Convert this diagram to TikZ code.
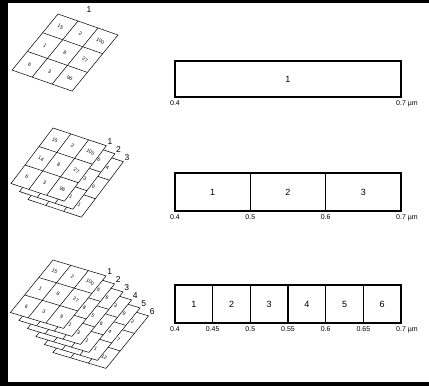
\documentclass[tikz,border=0pt]{standalone}
\usepackage{fontspec}
\setmainfont{Liberation Sans}
\begin{document}
\begin{tikzpicture}[x=1pt,y=-1pt,every node/.style={inner sep=1pt},
  bar/.style={line width=1.2pt},
  cell/.style={line width=0.5pt},
  num/.style={font=\fontsize{5}{5}\selectfont,rotate=-30},
  lay/.style={font=\fontsize{8.5}{9}\selectfont},
  binlbl/.style={font=\fontsize{9}{10}\selectfont},
  tick/.style={font=\fontsize{7}{7}\selectfont,anchor=north}]
\useasboundingbox (0,0) rectangle (429,386);
\fill[black] (0,0) rectangle (429,386);
\fill[white] (8,3) rectangle (429,382);
% one image
\begin{scope}[x={(20pt,-7pt)},y={(-15.3pt,-18.7pt)},xshift=58pt,yshift=-14pt]
\filldraw[cell,fill=white] (0,0) -- (3,0) -- (3,3) -- (0,3) -- cycle;
\foreach \t in {1,2} {
  \draw[cell] (\t,0) -- (\t,3);
  \draw[cell] (0,\t) -- (3,\t);
}
\foreach \n [count=\c from 0] in {15,2,100,1,8,27,6,3,96} {
  \pgfmathtruncatemacro\col{mod(\c,3)}
  \pgfmathtruncatemacro\row{\c/3}
  \node[num] (g1-\c) at (\col+0.5,\row+0.5) {\n};
}
\end{scope}
\node[lay] (g1-l) at (89,10) {1};
% three images
\foreach \k/\vals in {3/{4,0,1},2/{6,3,1},1/{100,27,96}} {
  \pgfmathsetmacro\dx{53+8.5*\k-8.5}
  \pgfmathsetmacro\dy{128+8*\k-8}
  \begin{scope}[x={(17.8pt,-5.9pt)},y={(-14pt,-18.5pt)},xshift=\dx pt,yshift=-\dy pt]
  \filldraw[cell,fill=white] (0,0) -- (3,0) -- (3,3) -- (0,3) -- cycle;
  \foreach \t in {1,2} {
    \draw[cell] (\t,0) -- (\t,3);
    \draw[cell] (0,\t) -- (3,\t);
  }
  \foreach \n [count=\r from 0] in \vals
    \node[num] (g2-\k-\r) at (2.5,\r+0.5) {\n};
  \node[lay,anchor=south west] (g2-l\k) at (3,0) {\k};
  \end{scope}
}
\begin{scope}[x={(17.8pt,-5.9pt)},y={(-14pt,-18.5pt)},xshift=53pt,yshift=-128pt]
\foreach \n [count=\c from 0] in {15,2,14,8,6,3} {
  \pgfmathtruncatemacro\col{mod(\c,2)}
  \pgfmathtruncatemacro\row{\c/2}
  \node[num] (g2-m\c) at (\col+0.5,\row+0.5) {\n};
}
\end{scope}
% six images
\foreach \k/\vals in {6/{2,7,12},5/{9,4,1},4/{3,6,1},3/{6,5,3},2/{6,8,1},1/{100,27,9}} {
  \pgfmathsetmacro\dx{53+8.5*\k-8.5}
  \pgfmathsetmacro\dy{260+8*\k-8}
  \begin{scope}[x={(17.7pt,-5.3pt)},y={(-14.2pt,-17.5pt)},xshift=\dx pt,yshift=-\dy pt]
  \filldraw[cell,fill=white] (0,0) -- (3,0) -- (3,3) -- (0,3) -- cycle;
  \foreach \t in {1,2} {
    \draw[cell] (\t,0) -- (\t,3);
    \draw[cell] (0,\t) -- (3,\t);
  }
  \foreach \n [count=\r from 0] in \vals
    \node[num] (g3-\k-\r) at (2.5,\r+0.5) {\n};
  \node[lay,anchor=south west] (g3-l\k) at (3,0) {\k};
  \end{scope}
}
\begin{scope}[x={(17.7pt,-5.3pt)},y={(-14.2pt,-17.5pt)},xshift=53pt,yshift=-260pt]
\foreach \n [count=\c from 0] in {15,2,1,8,6,3} {
  \pgfmathtruncatemacro\col{mod(\c,2)}
  \pgfmathtruncatemacro\row{\c/2}
  \node[num] (g3-m\c) at (\col+0.5,\row+0.5) {\n};
}
\end{scope}
% bands
\draw[bar] (175,61) rectangle (401,97);
\node[binlbl] (b1-1) at (288,79) {1};
\node[tick] (t1-0) at (175,99) {0.4};
\node[tick,anchor=north west] (t1-1) at (395,99) {0.7 µm};
\foreach \c in {1,2,3} {
  \draw[bar] ({175+(\c-1)*75.33},173) rectangle ({175+\c*75.33},211);
  \node[binlbl] (b2-\c) at ({175+(\c-0.5)*75.33},192) {\c};
}
\foreach \v [count=\c from 0] in {0.4,0.5,0.6}
  \node[tick] (t2-\c) at ({175+\c*75.33},213) {\v};
\node[tick,anchor=north west] (t2-3) at (395,213) {0.7 µm};
\foreach \c in {1,...,6} {
  \draw[bar] ({175+(\c-1)*37.67},285) rectangle ({175+\c*37.67},323);
  \node[binlbl] (b3-\c) at ({175+(\c-0.5)*37.67},304) {\c};
}
\foreach \v [count=\c from 0] in {0.4,0.45,0.5,0.55,0.6,0.65}
  \node[tick] (t3-\c) at ({175+\c*37.67},325) {\v};
\node[tick,anchor=north west] (t3-6) at (395,325) {0.7 µm};
\end{tikzpicture}
\end{document}
